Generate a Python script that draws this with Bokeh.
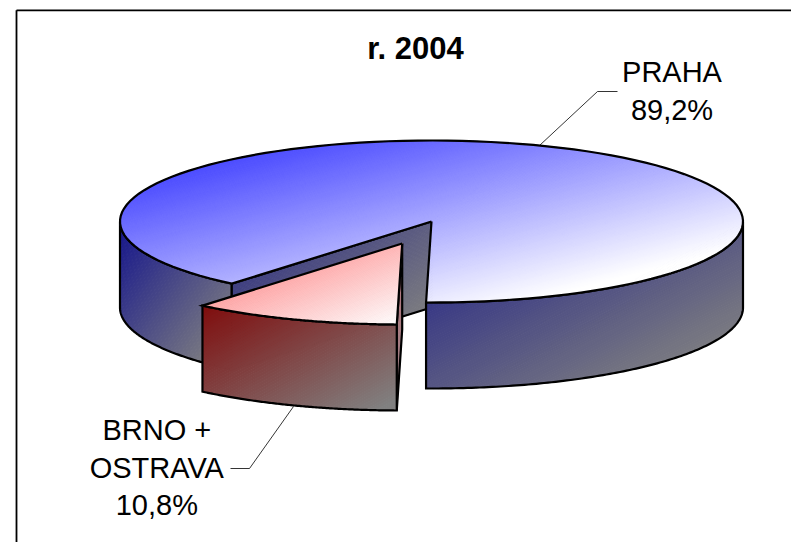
import numpy as np
from bokeh.plotting import figure
from bokeh.models import Range1d
from bokeh.core.properties import value
from bokeh.embed import file_html
from bokeh.resources import INLINE

title_text = "r. 2004"
categories = ["PRAHA", "BRNO +\nOSTRAVA"]
shares = [89.2, 10.8]

W, H = 791, 542
CX, CY, RX, RY, DEPTH = 431.0, 221.0, 311.5, 81.0, 86.0
EXPLODE = (-29.3, 22.0)
FIRST_BOUNDARY_DEG = 181.0

p = figure(width=W, height=H, output_backend="svg", toolbar_location=None,
           x_range=Range1d(0, W), y_range=Range1d(H, 0), min_border=0)
p.axis.visible = False
p.grid.visible = False
p.outline_line_color = None
p.background_fill_color = "white"
p.border_fill_color = "white"


def clip(poly, nx, ny, c, keep_greater):
    out = []
    n = len(poly)
    for i in range(n):
        a, b = poly[i], poly[(i + 1) % n]
        da = a[0] * nx + a[1] * ny - c
        db = b[0] * nx + b[1] * ny - c
        if not keep_greater:
            da, db = -da, -db
        if da >= 0:
            out.append(a)
        if (da >= 0) != (db >= 0):
            s = da / (da - db)
            out.append((a[0] + (b[0] - a[0]) * s, a[1] + (b[1] - a[1]) * s))
    return out


def lerp(c0, c1, t):
    t = max(0.0, min(1.0, t))
    return "#%02x%02x%02x" % tuple(int(round(u + (v - u) * t)) for u, v in zip(c0, c1))


def gradient(poly, c0, c1, origin, gx, gy, steps=70):
    """Fill poly with a linear gradient t = gx*(x-ox) + gy*(y-oy), as thin strips."""
    norm = np.hypot(gx, gy)
    nx, ny = gx / norm, gy / norm
    proj = [q[0] * nx + q[1] * ny for q in poly]
    lo, hi = min(proj), max(proj)
    edges = np.linspace(lo, hi, steps + 1)
    xs, ys, cols = [], [], []
    for a, b in zip(edges[:-1], edges[1:]):
        piece = clip(clip(poly, nx, ny, a, True), nx, ny, b, False)
        if len(piece) < 3:
            continue
        mid = (a + b) / 2
        t = ((mid - (origin[0] * nx + origin[1] * ny))) * norm
        xs.append([q[0] for q in piece])
        ys.append([q[1] for q in piece])
        cols.append(lerp(c0, c1, t))
    p.patches(xs, ys, fill_color=cols, line_color=cols, line_width=1)


def outline(poly):
    xs = [q[0] for q in poly] + [poly[0][0]]
    ys = [q[1] for q in poly] + [poly[0][1]]
    p.line(xs, ys, line_color="black", line_width=2.2, line_join="miter")


def rim(a0, a1, dx=0.0, dy=0.0, dz=0.0, n=120):
    """Points on the ellipse; angles are clockwise from the top, in degrees."""
    th = np.radians(np.linspace(a0, a1, n))
    return [(CX + dx + RX * np.sin(t), CY + dy + dz - RY * np.cos(t)) for t in th]


def bbox_grad(poly, k=1.0):
    xs = [q[0] for q in poly]
    ys = [q[1] for q in poly]
    w, h = max(xs) - min(xs), max(ys) - min(ys)
    return (min(xs), min(ys)), k / (2 * w), k / (2 * h)


sweep = [s / sum(shares) * 360.0 for s in shares]
b0 = FIRST_BOUNDARY_DEG
b1 = b0 + sweep[1]

BLUE_DARK = (20, 20, 140)
GRAY = (128, 128, 128)
WHITE = (255, 255, 255)

# outer wall, left of the gap
left_wall = rim(270, b1) + rim(b1, 270, dz=DEPTH)
o, gx, gy = bbox_grad(left_wall, 1.1)
gradient(left_wall, BLUE_DARK, GRAY, o, gx, gy)
outline(left_wall)

# cut face behind the gap
edge = rim(b1, b1, n=1)[0]
cut = [(CX, CY), edge, (edge[0], edge[1] + DEPTH), (CX, CY + DEPTH)]
o, gx, gy = bbox_grad(cut, 1.2)
gradient(cut, (40, 40, 130), GRAY, o, gx, gy)
outline(cut)

# outer wall, right of the gap
right_wall = rim(b0, 90) + rim(90, b0, dz=DEPTH)
o, gx, gy = bbox_grad(right_wall, 1.15)
gradient(right_wall, (28, 28, 135), GRAY, o, gx, gy)
outline(right_wall)

# top face of the large slice, filled as two convex sectors
mid_angle = b1 + sweep[0] / 2
for start, stop in ((b1, mid_angle), (mid_angle, b1 + sweep[0])):
    gradient([(CX, CY)] + rim(start, stop), (64, 64, 255), WHITE, (170, 160), 0.0011, 0.0043, steps=110)
outline([(CX, CY)] + rim(b1, b1 + sweep[0]))

# detached slice
dx, dy = EXPLODE
apex = (CX + dx, CY + dy)
e0 = rim(b0, b0, dx, dy, n=1)[0]
side = [apex, e0, (e0[0], e0[1] + DEPTH), (apex[0], apex[1] + DEPTH)]
gradient(side, (190, 120, 130), GRAY, side[0], 0.0, 1 / (2.0 * (DEPTH + e0[1] - apex[1])) * 1.4)
outline(side)

front = rim(b0, b1, dx, dy) + rim(b1, b0, dx, dy, dz=DEPTH)
o, gx, gy = bbox_grad(front, 1.05)
gradient(front, (128, 12, 12), GRAY, o, gx, gy)
outline(front)

s_top = [apex] + rim(b0, b1, dx, dy)
o, gx, gy = bbox_grad(s_top, 1.0)
gradient(s_top, (255, 110, 110), WHITE, o, gx, gy)
outline(s_top)

# frame
p.line([16, 16], [H, 9.8], line_color="black", line_width=1.8)
p.line([16, W], [9.8, 9.8], line_color="black", line_width=1.8)

# leaders
p.line([539, 597, 617], [145, 91, 91], line_color="black", line_width=0.8)
p.line([293, 249, 230], [406, 468, 468], line_color="black", line_width=0.8)

font = value("Liberation Sans")
p.text([415], [47.5], text=[title_text], text_font=font, text_font_size="31px",
       text_font_style="bold", text_align="center", text_baseline="middle", text_color="black")


def label(x, y, name, share):
    lines = name.split("\n") + [f"{share:.1f}%".replace(".", ",")]
    ys = [y + i * 37.5 for i in range(len(lines))]
    p.text([x] * len(lines), ys, text=lines, text_font=font, text_font_size="29px",
           text_align="center", text_baseline="middle", text_color="black")


label(671.5, 71.5, categories[0], shares[0])
label(156.3, 429.5, categories[1], shares[1])

open("out.html", "w").write(file_html(p, INLINE))
